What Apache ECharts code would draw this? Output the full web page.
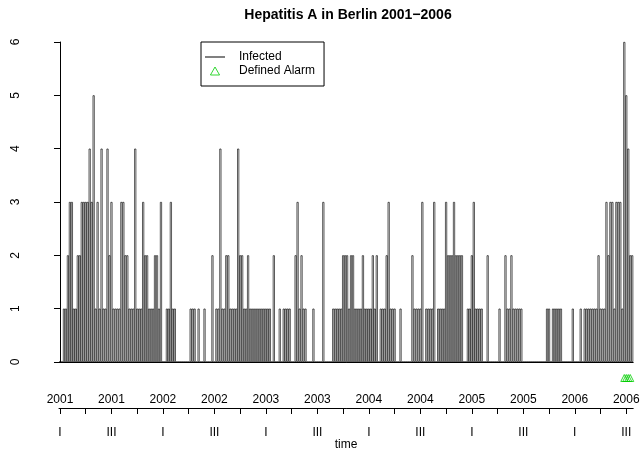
<!DOCTYPE html>
<html>
<head>
<meta charset="utf-8">
<script src="https://cdn.jsdelivr.net/npm/echarts@6/dist/echarts.min.js"></script>
<style>html,body{margin:0;padding:0;background:#fff}#c{width:642px;height:450px}</style>
</head>
<body>
<div id="c"></div>
<script>
// Weekly counts of Hepatitis A in Berlin, 2001 week 1 .. 2006 (290 weeks)
const infected = [
  0,0,1,1,2,3,3,1,1,2,2,3,3,3,3,4,3,5,1,3,1,4,1,1,4,2,
  3,1,1,1,1,3,3,2,2,1,1,1,4,1,1,1,3,2,2,1,1,1,2,2,1,3,
  0,0,1,1,3,1,1,0,0,0,0,0,0,0,1,1,1,0,1,0,0,1,0,0,0,2,
  0,1,1,4,1,1,2,2,1,1,1,1,4,2,2,1,1,2,1,1,1,1,1,1,1,1,
  1,1,1,0,2,0,0,1,0,1,1,1,1,0,0,2,3,1,2,1,1,0,0,0,1,0,
  0,0,0,3,0,0,0,0,1,1,1,1,1,2,2,2,1,2,2,1,1,1,1,2,1,1,
  1,1,2,1,2,0,1,1,1,2,3,1,1,1,0,0,1,0,0,0,0,0,2,1,1,1,
  1,3,0,1,1,1,1,3,0,1,1,1,1,3,2,2,2,3,2,2,2,2,0,0,1,1,
  2,3,1,1,1,1,0,0,2,0,0,0,0,0,1,0,0,2,1,1,2,1,1,1,1,1,
  0,0,0,0,0,0,0,0,0,0,0,0,1,1,0,1,1,1,1,1,0,0,0,0,0,1,
  0,0,0,1,0,1,1,1,1,1,1,1,2,1,1,1,3,2,3,3,1,3,3,3,1,6,
  5,4,2,2
];
// weeks (0-based index) with a defined alarm
const alarmWeeks = [285, 286, 287, 288];
const alarmLevel = -0.3;
// axis ticks (week index of quarter starts) and labelled positions
const quarterTicks = [0,13,26,39,52,65,78,91,104,117,130,143,156,169,182,195,208,221,234,247,260,273,286];
const labelTicks = [0,26,52,78,104,130,156,182,208,234,260,286];
const startYear = 2001;
const weeksPerYear = 52;

const weeks = infected.map((v, i) => String(i));
const font = 'Liberation Sans, Arial, Helvetica, sans-serif';

const chart = echarts.init(document.getElementById('c'), null, {renderer: 'canvas'});
const option = {
  animation: false,
  backgroundColor: '#fff',
  title: {
    text: 'Hepatitis A in Berlin 2001\u22122006',
    left: 343, top: 3, textAlign: 'center',
    textStyle: {fontFamily: font, fontSize: 14, fontWeight: 'bold', color: '#000'}
  },
  legend: {
    orient: 'vertical', left: 201, top: 42,
    borderColor: '#000', borderWidth: 1, borderRadius: 0,
    padding: [9, 9, 9, 4], itemGap: 2, itemWidth: 20, itemHeight: 8,
    symbolKeepAspect: true,
    textStyle: {fontFamily: font, fontSize: 12, color: '#000', padding: [0, 0, 0, 9]},
    data: [
      {name: 'Infected', icon: 'path://M0,0L20,0L20,1L0,1Z', itemStyle: {color: '#000', borderWidth: 0}},
      {name: 'Defined Alarm', icon: 'path://M4,0L8,7L0,7Z', itemStyle: {color: 'rgba(0,0,0,0)', borderColor: '#00cd00', borderWidth: 1}}
    ]
  },
  grid: {left: 59, right: 8.8, top: 42, bottom: 88, containLabel: false, outerBoundsMode: 'none'},
  xAxis: [
    {
      type: 'category', data: weeks, boundaryGap: true,
      axisLine: {show: true, onZero: true, lineStyle: {color: '#000', width: 1}},
      axisTick: {show: false}, axisLabel: {show: false}, splitLine: {show: false}
    },
    {
      type: 'value', min: -0.5, max: infected.length - 0.5, position: 'bottom', offset: 46,
      axisLine: {show: true, lineStyle: {color: '#000', width: 1}},
      axisTick: {show: true, inside: false, length: 6, customValues: quarterTicks, lineStyle: {color: '#000'}},
      axisLabel: {show: true, inside: true, margin: 2, customValues: labelTicks,
        fontFamily: font, fontSize: 12, color: '#000',
        formatter: v => String(startYear + Math.floor(Math.round(v) / weeksPerYear))},
      splitLine: {show: false}
    },
    {
      type: 'value', min: -0.5, max: infected.length - 0.5, position: 'bottom', offset: 46,
      name: 'time', nameLocation: 'middle', nameGap: 31, nameMoveOverlap: false,
      nameTextStyle: {fontFamily: font, fontSize: 12, color: '#000'},
      axisLine: {show: false}, axisTick: {show: false},
      axisLabel: {show: true, margin: 19, customValues: labelTicks,
        fontFamily: font, fontSize: 12, color: '#000',
        formatter: v => (Math.round(v) % weeksPerYear === 0 ? 'I' : 'III')},
      splitLine: {show: false}
    }
  ],
  yAxis: {
    type: 'value', min: 0, max: 6, interval: 1, position: 'left', offset: 23,
    axisLine: {show: true, lineStyle: {color: '#000', width: 1}},
    axisTick: {show: true, length: 6, lineStyle: {color: '#000'}},
    axisLabel: {show: true, rotate: 90, margin: 14, fontFamily: font, fontSize: 12, color: '#000'},
    splitLine: {show: false}
  },
  series: [
    {
      name: 'Infected', type: 'bar', xAxisIndex: 0, data: infected,
      barCategoryGap: '0%', barGap: '0%',
      itemStyle: {color: '#fff', borderColor: '#000', borderWidth: 0.65},
      emphasis: {disabled: true}, silent: true
    },
    {
      name: 'Defined Alarm', type: 'scatter', xAxisIndex: 0, clip: false,
      data: alarmWeeks.map(w => [String(w), alarmLevel]),
      symbol: 'triangle', symbolSize: 7,
      itemStyle: {color: 'rgba(0,0,0,0)', borderColor: '#00cd00', borderWidth: 1},
      emphasis: {disabled: true}, silent: true
    }
  ]
};
chart.setOption(option);
</script>
</body>
</html>
